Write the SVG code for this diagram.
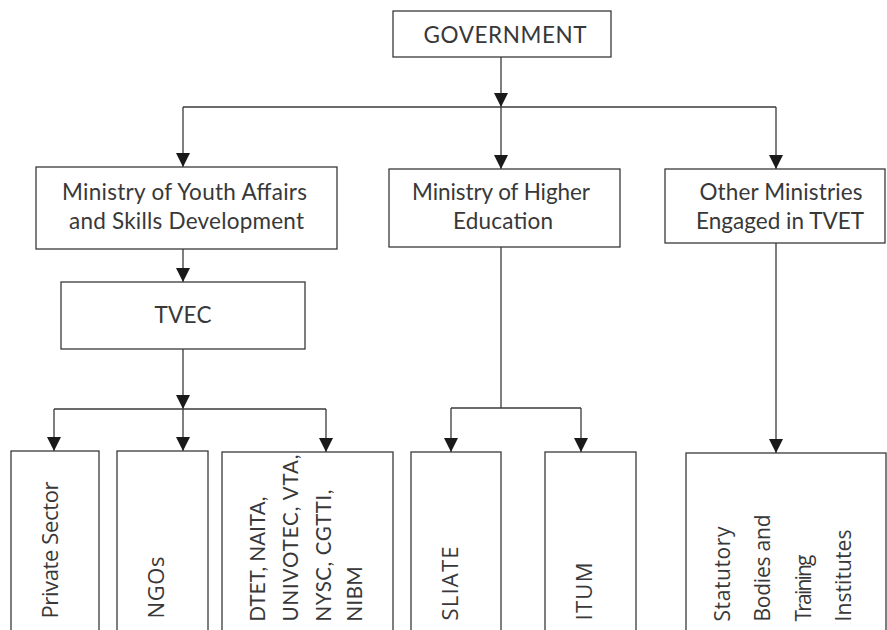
<svg xmlns="http://www.w3.org/2000/svg" width="887" height="630" viewBox="0 0 887 630">
<style>
.box{fill:#fff;stroke:#3a3a3a;stroke-width:1.3}
.ln{fill:none;stroke:#3a3a3a;stroke-width:1.3}
.t{font-family:Lato,"Liberation Sans",sans-serif;font-size:22.5px;fill:#383838;text-anchor:middle}
.r{font-family:"Open Sans","Liberation Sans",sans-serif;font-size:22px;fill:#383838}
.rl{font-family:Lato,"Liberation Sans",sans-serif;font-size:20.5px;fill:#383838}
</style>
<defs>
<marker id="ah" markerUnits="userSpaceOnUse" markerWidth="14" markerHeight="14" refX="14" refY="7" orient="auto" viewBox="0 0 14 14">
<path d="M0,0 L14,7 L0,14 Z" fill="#1a1a1a"/>
</marker>
</defs>
<rect width="887" height="630" fill="#fff"/>
<g id="connectors">
<path class="ln" d="M501,57 V107" marker-end="url(#ah)"/>
<path class="ln" d="M183,107 H776"/>
<path class="ln" d="M183,107 V167" marker-end="url(#ah)"/>
<path class="ln" d="M501,107 V169" marker-end="url(#ah)"/>
<path class="ln" d="M776,107 V169" marker-end="url(#ah)"/>
<path class="ln" d="M183,249 V282" marker-end="url(#ah)"/>
<path class="ln" d="M183,349 V409" marker-end="url(#ah)"/>
<path class="ln" d="M54,409 H326"/>
<path class="ln" d="M54,409 V451" marker-end="url(#ah)"/>
<path class="ln" d="M183,409 V451" marker-end="url(#ah)"/>
<path class="ln" d="M326,409 V452" marker-end="url(#ah)"/>
<path class="ln" d="M501,247 V408"/>
<path class="ln" d="M451,408 H581"/>
<path class="ln" d="M451,408 V452" marker-end="url(#ah)"/>
<path class="ln" d="M581,408 V452" marker-end="url(#ah)"/>
<path class="ln" d="M776,243 V453" marker-end="url(#ah)"/>
</g>
<g id="government">
<rect class="box" x="393" y="11" width="218" height="46"/>
<text class="t" x="505" y="42.5" textLength="163">GOVERNMENT</text>
</g>
<g id="youth">
<rect class="box" x="36" y="167" width="301" height="82"/>
<text class="t" x="184.5" y="200" textLength="245">Ministry of Youth Affairs</text>
<text class="t" x="186.5" y="229" textLength="235">and Skills Development</text>
</g>
<g id="higher">
<rect class="box" x="389" y="169" width="231" height="78"/>
<text class="t" x="501" y="200" textLength="178">Ministry of Higher</text>
<text class="t" x="503" y="229" textLength="100">Education</text>
</g>
<g id="other">
<rect class="box" x="665" y="169" width="220" height="74"/>
<text class="t" x="781" y="200" textLength="163">Other Ministries</text>
<text class="t" x="780" y="229" textLength="168">Engaged in TVET</text>
</g>
<g id="tvec">
<rect class="box" x="61" y="282" width="244" height="67"/>
<text class="t" x="183" y="323" textLength="57">TVEC</text>
</g>
<g id="private">
<rect class="box" x="11" y="451" width="88" height="190"/>
<text class="r" transform="translate(57.5,618.5) rotate(-90)" textLength="137">Private Sector</text>
</g>
<g id="ngos">
<rect class="box" x="117" y="451" width="91" height="190"/>
<text class="r" transform="translate(164,618.5) rotate(-90)" textLength="62">NGOs</text>
</g>
<g id="dtet">
<rect class="box" x="222" y="452" width="171" height="190"/>
<text class="rl" transform="translate(265,621.5) rotate(-90)" textLength="125">DTET, NAITA,</text>
<text class="rl" transform="translate(298,621.5) rotate(-90)" textLength="167">UNIVOTEC, VTA,</text>
<text class="rl" transform="translate(331,621.5) rotate(-90)" textLength="132">NYSC, CGTTI,</text>
<text class="rl" transform="translate(362,621.5) rotate(-90)" textLength="55">NIBM</text>
</g>
<g id="sliate">
<rect class="box" x="411" y="452" width="90" height="190"/>
<text class="r" transform="translate(457.5,620.5) rotate(-90)" textLength="74">SLIATE</text>
</g>
<g id="itum">
<rect class="box" x="545" y="452" width="91" height="190"/>
<text class="r" transform="translate(591.5,620.5) rotate(-90)" textLength="58">ITUM</text>
</g>
<g id="statutory">
<rect class="box" x="686" y="453" width="200" height="190"/>
<text class="r" style="font-size:21px" transform="translate(730,621.5) rotate(-90)" textLength="95">Statutory</text>
<text class="r" style="font-size:21px" transform="translate(769.5,621.5) rotate(-90)" textLength="107">Bodies and</text>
<text class="r" style="font-size:21px" transform="translate(810.5,621.5) rotate(-90)" textLength="67">Training</text>
<text class="r" style="font-size:21px" transform="translate(850.5,621.5) rotate(-90)" textLength="92">Institutes</text>
</g>
</svg>
